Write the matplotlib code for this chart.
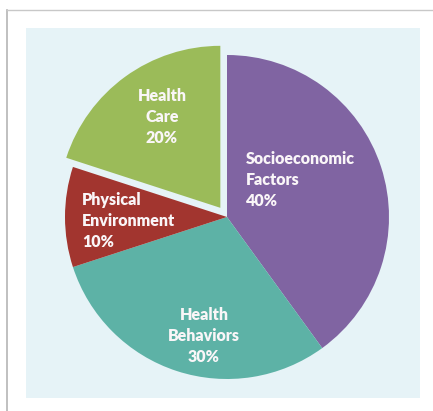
import matplotlib.pyplot as plt
from matplotlib.patches import Rectangle

# slice data (clockwise from 12 o'clock)
categories = ['Socioeconomic\nFactors', 'Health\nBehaviors', 'Physical\nEnvironment', 'Health\nCare']
shares = [40, 30, 10, 20]
colors = ['#8064A2', '#5DB2A6', '#A2352F', '#9BBB59']
explode = [0, 0, 0, 0.07]

# label anchor positions in pixels (x, y from top) and alignment
label_pos = [(246, 180), (204, 336), (82, 221), (162, 117)]
label_ha = ['left', 'center', 'left', 'center']

W, H = 433, 411
fig = plt.figure(figsize=(W / 100, H / 100), dpi=100)
ax = fig.add_axes([0, 0, 1, 1])

# outer frame (left/top edges) and light blue panel
ax.plot([7, 7], [0, H - 10], color='#B5B5B5', lw=1.2)
ax.plot([7, W], [H - 10, H - 10], color='#C8C8C8', lw=1.0)
ax.add_patch(Rectangle((26, H - 398), 394, 370, facecolor='#E6F3F7', edgecolor='none'))

cx, cy, r = 227, H - 217, 162
ax.pie(shares, colors=colors, explode=[e * r for e in explode], startangle=90,
       counterclock=False, center=(cx, cy), radius=r, frame=True,
       wedgeprops=dict(linewidth=0))
ax.set_xlim(0, W)
ax.set_ylim(0, H)
ax.set_aspect('equal')
ax.axis('off')

for cat, share, (x, y), ha in zip(categories, shares, label_pos, label_ha):
    ax.text(x, H - y, f'{cat}\n{share}%', ha=ha, va='center', color='#FAF6F8',
            fontsize=11.5, fontweight='heavy', family='Lato', linespacing=1.42,
            multialignment=ha)

fig.savefig('out.png', dpi=100)
